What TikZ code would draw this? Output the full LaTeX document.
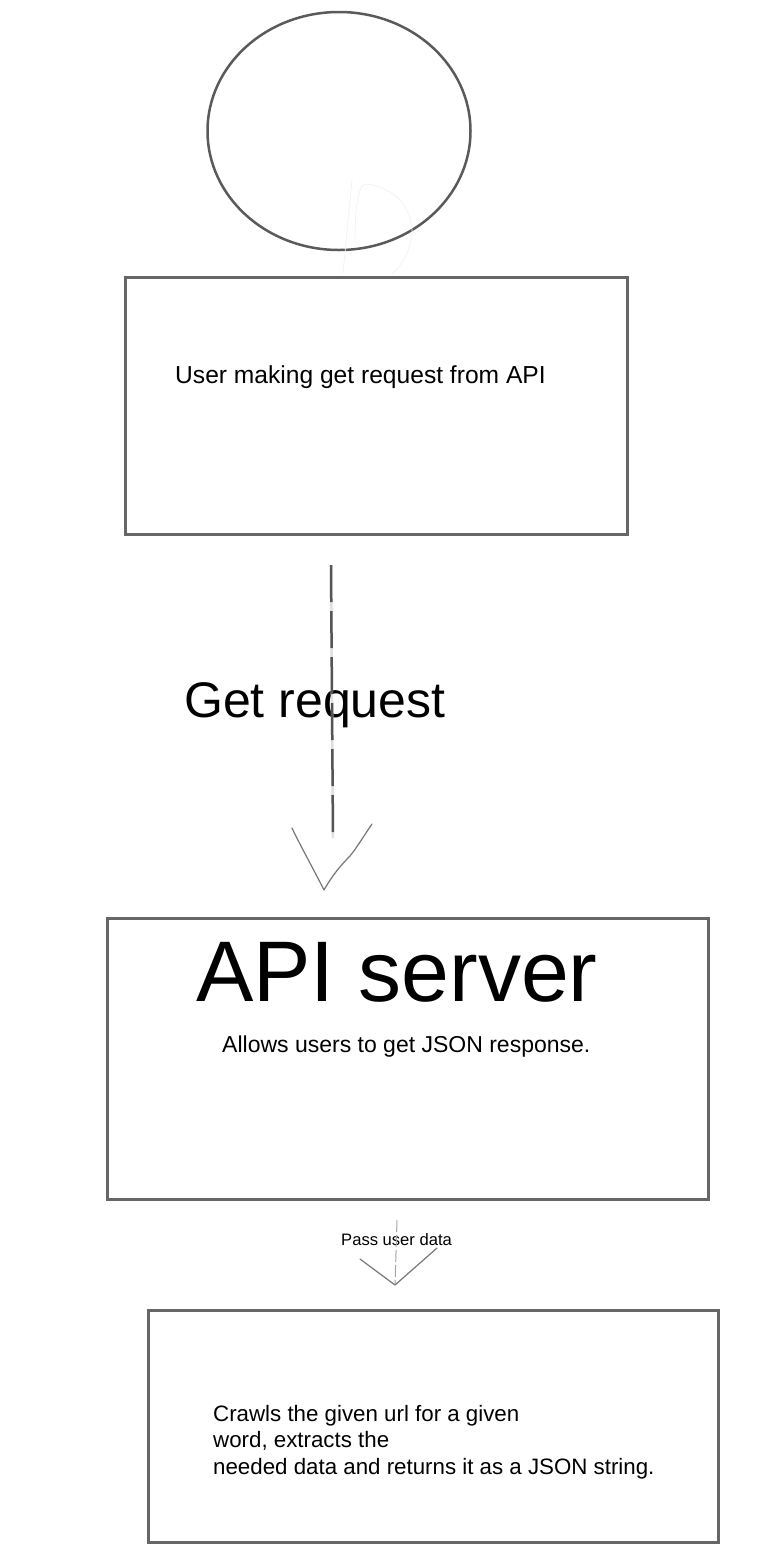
\documentclass[tikz,border=0pt]{standalone}
\usepackage{fontspec}
\setmainfont{Liberation Sans}
\usetikzlibrary{shapes.geometric}
\definecolor{boxline}{HTML}{666666}
\definecolor{ringline}{HTML}{5A5A5A}
\definecolor{dashline}{HTML}{555555}
\definecolor{penline}{HTML}{777777}
\begin{document}
\begin{tikzpicture}[x=1pt,y=-1pt,
  box/.style={draw=boxline, line width=2.5pt, inner sep=0pt, anchor=north west},
  ring/.style={draw=ringline, line width=2.5pt, ellipse, inner sep=0pt},
  label/.style={inner sep=0pt, anchor=base west, text=black},
  dashunder/.style={draw=black!12, line width=2.5pt},
  dashconn/.style={draw=dashline, line width=2.5pt, dash pattern=on 37pt off 9pt},
  pen/.style={draw=penline, line width=1.2pt, line cap=round, line join=round},
  faint/.style={draw=black!5, line width=0.7pt, line cap=round}
]
\useasboundingbox (0,0) rectangle (766,1559);
\fill[white] (0,0) rectangle (766,1559);

% circle at top
\node[ring, minimum width=263pt, minimum height=238pt] (actor) at (339,131) {};
\draw[faint] (352,180) -- (343,273);
\draw[faint] (355,240) .. controls (355,210) and (358,186) .. (365,184)
  .. controls (385,186) and (410,198) .. (412,230)
  .. controls (412,250) and (402,265) .. (392,274);

% boxes
\node[box, minimum width=502pt, minimum height=257pt] (userbox) at (124,276) {};
\node[box, minimum width=601pt, minimum height=281pt] (apibox) at (106,917) {};
\node[box, minimum width=570pt, minimum height=232pt] (crawlbox) at (147,1309) {};

% texts
\node[label, font=\fontsize{24.6}{28}\selectfont] (usertext) at (175,383) {User making get request from API};
\node[label, font=\fontsize{50}{56}\selectfont] (getlabel) at (184,717) {Get request};
\node[label, font=\fontsize{86}{96}\selectfont] (apititle) at (196,1001) {API server};
\node[label, font=\fontsize{23}{27}\selectfont] (apitext) at (222,1052) {Allows users to get JSON response.};
\node[label, font=\fontsize{16.6}{19}\selectfont] (passlabel) at (341,1245) {Pass user data};
\node[inner sep=0pt, anchor=north west, align=left, font=\fontsize{22.3}{26.5}\selectfont] (crawltext) at (213,1405)
  {Crawls the given url for a given\\word, extracts the\\needed data and returns it as a JSON string.};

% connector 1: dashed line with hand-drawn head
\coordinate (g1) at (331,565);
\coordinate (g2) at (333,838);
\coordinate (h1) at (292,828);
\coordinate (htip) at (324,890);
\coordinate (h2) at (372,824);
\draw[dashunder] (g1) -- (g2);
\draw[dashconn] (g1) -- (g2);
\draw[pen] (h1) .. controls (300,845) and (315,872) .. (htip)
  .. controls (332,876) and (340,866) .. (350,856)
  .. controls (358,846) and (365,834) .. (h2);

% connector 2
\coordinate (p1) at (397,1220);
\coordinate (ptip) at (395,1285);
\coordinate (pl) at (360,1259);
\coordinate (pr) at (437,1248);
\draw[draw=black!35, line width=1pt, dash pattern=on 12pt off 3pt] (p1) -- (ptip);
\draw[pen] (pl) -- (ptip) -- (pr);
\end{tikzpicture}
\end{document}
